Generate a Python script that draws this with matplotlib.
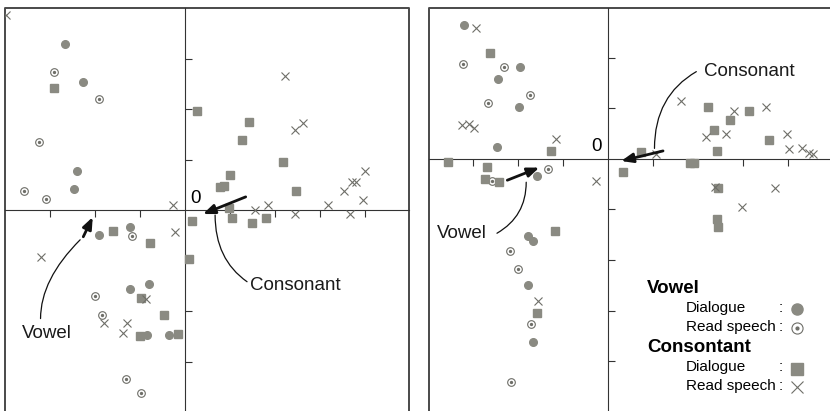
"""
    Vowel / consonant scatter, two panels
"""

import numpy as np
import matplotlib
matplotlib.use('Agg')
import matplotlib.pyplot as plt

plt.rcParams['font.family'] = ['Liberation Sans', 'DejaVu Sans']

# ---- left panel ----
left_vowel_dialogue = [(-2.66, 3.29), (-2.27, 2.53), (-2.41, 0.78), (-2.47, 0.41), (-1.23, -0.34),
                       (-1.90, -0.50), (-0.79, -1.47), (-1.22, -1.57), (-0.85, -2.48), (-0.36, -2.47)]
left_vowel_read = [(-2.92, 2.73), (-1.90, 2.19), (-3.24, 1.34), (-3.58, 0.38), (-3.08, 0.21),
                   (-1.18, -0.52), (-2.01, -1.71), (-1.85, -2.07), (-1.30, -3.35), (-0.98, -3.62)]
left_cons_dialogue = [(-2.90, 2.41), (0.26, 1.96), (1.43, 1.74), (1.27, 1.38), (2.19, 0.96),
                      (1.01, 0.69), (0.87, 0.48), (0.78, 0.46), (2.47, 0.38), (0.98, 0.03),
                      (1.05, -0.15), (1.81, -0.15), (1.50, -0.26), (0.16, -0.22), (-1.61, -0.41),
                      (-0.77, -0.66), (0.08, -0.98), (-0.97, -1.75), (-0.47, -2.07), (-1.01, -2.50),
                      (-0.15, -2.46)]
left_cons_read = [(-3.98, 3.86), (-0.26, 0.10), (2.23, 2.66), (2.62, 1.72), (2.45, 1.58),
                  (4.00, 0.77), (3.81, 0.56), (3.71, 0.55), (3.53, 0.38), (3.96, 0.19),
                  (3.18, 0.10), (1.85, 0.10), (1.56, 0.00), (2.45, -0.08), (3.67, -0.08),
                  (-0.23, -0.44), (-3.20, -0.93), (-0.87, -1.76), (-1.79, -2.24), (-1.29, -2.24),
                  (-1.38, -2.44)]

# ---- right panel ----
right_vowel_dialogue = [(-3.20, 2.66), (-1.95, 1.83), (-2.44, 1.59), (-1.99, 1.03), (-2.48, 0.24),
                        (-1.57, -0.34), (-1.79, -1.52), (-1.67, -1.62), (-1.78, -2.50), (-1.66, -3.62)]
right_vowel_read = [(-3.22, 1.89), (-2.32, 1.82), (-1.73, 1.27), (-2.66, 1.10), (-1.34, -0.20),
                    (-2.58, -0.43), (-2.18, -1.83), (-2.01, -2.17), (-1.71, -3.27), (-2.16, -4.42)]
right_cons_dialogue = [(-2.62, 2.09), (-1.28, 0.16), (-3.55, -0.05), (-2.70, -0.16), (-2.73, -0.40),
                       (-2.42, -0.46), (0.34, -0.26), (-1.19, -1.42), (-1.59, -3.04), (2.21, 1.02),
                       (3.12, 0.95), (2.70, 0.77), (2.35, 0.57), (3.58, 0.38), (2.43, 0.16),
                       (0.72, 0.13), (1.81, -0.08), (1.90, -0.08), (2.45, -0.58), (2.41, -1.19),
                       (2.45, -1.35)]
right_cons_read = [(-2.93, 2.60), (-3.25, 0.67), (-3.10, 0.69), (-2.98, 0.62), (-1.15, 0.39),
                   (-0.26, -0.44), (-1.56, -2.81), (1.62, 1.15), (2.80, 0.95), (3.51, 1.02),
                   (2.61, 0.50), (2.18, 0.43), (3.98, 0.50), (4.03, 0.19), (4.30, 0.22),
                   (4.46, 0.11), (4.55, 0.09), (1.07, 0.10), (2.37, -0.55), (3.70, -0.58),
                   (2.97, -0.95)]

legend_groups = ['Vowel', 'Consontant']
legend_rows = ['Dialogue', 'Read speech']

GRAY = '#8a8a82'
EDGE = '#6e6e68'
FRAME = '#4a4a4a'


def draw_points(ax, pts, kind, ms=5.5):
    pts = np.array(pts)
    x, y = pts[:, 0], pts[:, 1]
    if kind == 'dot':
        ax.plot(x, y, 'o', ms=ms, color=GRAY, mec=GRAY, zorder=3)
    elif kind == 'odot':
        ax.plot(x, y, 'o', ms=ms, mfc='white', mec=EDGE, mew=0.8, zorder=3)
        ax.plot(x, y, 'o', ms=ms * 0.25, color=EDGE, zorder=4)
    elif kind == 'square':
        ax.plot(x, y, 's', ms=ms, color=GRAY, mec=GRAY, zorder=3)
    else:
        ax.plot(x, y, 'x', ms=ms, color=EDGE, mew=0.8, zorder=3)


def setup_axes(ax, xlim, ylim, xticks, yticks, right_side=True):
    ax.set_xlim(*xlim)
    ax.set_ylim(*ylim)
    for s in ['top', 'right']:
        ax.spines[s].set_visible(False)
    ax.spines['left'].set_position(('data', 0))
    ax.spines['bottom'].set_position(('data', 0))
    ax.spines['left'].set_color('#333333')
    ax.spines['bottom'].set_color('#333333')
    ax.set_xticks(xticks)
    ax.set_yticks(yticks)
    ax.tick_params(axis='x', direction='out', length=5, color='#333333', labelbottom=False)
    ax.tick_params(axis='y', direction='in', length=5, color='#333333', labelleft=False)
    # outer frame (bottom is cut off in the original)
    if right_side:
        ax.plot([0, 0, 1, 1], [0, 1, 1, 0], color=FRAME, lw=1.4, transform=ax.transAxes, clip_on=False)
    else:
        ax.plot([0, 0, 1], [0, 1, 1], color=FRAME, lw=1.4, transform=ax.transAxes, clip_on=False)


def arrow_with_curve(ax, tail, head, curve_start, curve_end, label, label_pos, angA, angB):
    ax.annotate('', xy=head, xytext=tail,
                arrowprops=dict(arrowstyle='-|>,head_length=0.7,head_width=0.28', lw=2,
                                color='#111111', shrinkA=0, shrinkB=0))
    ax.annotate('', xy=curve_start, xytext=curve_end,
                arrowprops=dict(arrowstyle='-', lw=0.9, color='#111111', shrinkA=0, shrinkB=0,
                                connectionstyle='angle3,angleA=%d,angleB=%d' % (angA, angB)))
    ax.text(label_pos[0], label_pos[1], label, fontsize=13.5, ha='left', va='center', color='#1a1a1a')


fig = plt.figure(figsize=(8.3, 4.11), dpi=100)

ax1 = fig.add_axes([5 / 830, 0, 404 / 830, 403 / 411])
ax1.patch.set_alpha(0)
setup_axes(ax1, (-4, 4.98), (-3.98, 4.0), [-3, -2, -1, 1, 2, 3, 4], [-3, -2, -1, 1, 2, 3])
draw_points(ax1, left_vowel_dialogue, 'dot')
draw_points(ax1, left_vowel_read, 'odot')
draw_points(ax1, left_cons_dialogue, 'square')
draw_points(ax1, left_cons_read, 'cross')
ax1.text(0.24, 0.22, '0', fontsize=13.5, ha='center', va='center')
arrow_with_curve(ax1, (1.35, 0.26), (0.40, -0.08), (0.67, -0.10), (1.38, -1.42),
                 'Consonant', (1.44, -1.50), -35, 90)
arrow_with_curve(ax1, (-2.26, -0.53), (-2.05, -0.14), (-2.33, -0.59), (-3.21, -2.15),
                 'Vowel', (-3.62, -2.44), 90, 45)

ax2 = fig.add_axes([429 / 830, 0, 401 / 830, 403 / 411])
ax2.patch.set_alpha(0)
setup_axes(ax2, (-3.98, 4.93), (-4.99, 2.99), [-3, -2, -1, 1, 2, 3, 4], [-4, -3, -2, -1, 1, 2],
           right_side=False)
draw_points(ax2, right_vowel_dialogue, 'dot')
draw_points(ax2, right_vowel_read, 'odot')
draw_points(ax2, right_cons_dialogue, 'square')
draw_points(ax2, right_cons_read, 'cross')
ax2.text(-0.25, 0.24, '0', fontsize=13.5, ha='center', va='center')
arrow_with_curve(ax2, (1.22, 0.16), (0.29, -0.04), (1.03, 0.21), (1.96, 1.73),
                 'Consonant', (2.13, 1.74), 30, 90)
arrow_with_curve(ax2, (-2.24, -0.42), (-1.53, -0.17), (-1.82, -0.46), (-2.47, -1.47),
                 'Vowel', (-3.80, -1.47), 30, 90)

# legend, drawn by hand like the original
kinds = [['dot', 'odot'], ['square', 'cross']]
gy = [-2.57, -3.74]
for g, name in enumerate(legend_groups):
    ax2.text(0.87, gy[g], name, fontsize=13.5, fontweight='bold', ha='left', va='center')
    for r, row in enumerate(legend_rows):
        yy = gy[g] - 0.38 - 0.37 * r
        ax2.text(1.73, yy, row, fontsize=11, ha='left', va='center')
        ax2.text(3.84, yy, ':', fontsize=11, ha='center', va='center')
        draw_points(ax2, [(4.2, yy - 0.03)], kinds[g][r], ms=8)

fig.savefig('out.png', dpi=100)
